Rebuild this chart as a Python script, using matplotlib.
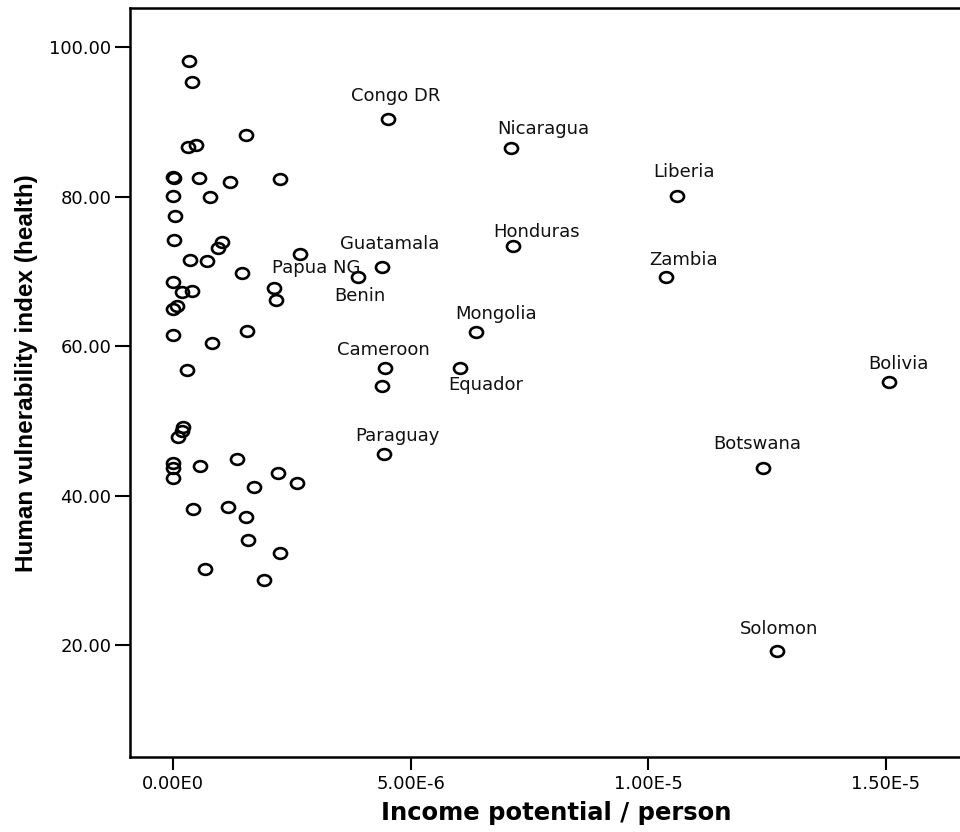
import matplotlib
matplotlib.use("Agg")
import matplotlib.pyplot as plt
from matplotlib.path import Path
from matplotlib.markers import MarkerStyle
from matplotlib.transforms import Affine2D

# unlabelled countries (income potential per person, health vulnerability)
income = [3.43e-7, 3.94e-7, 1.530e-6, 3.22e-7, 4.78e-7, 1.0e-8, 3.0e-8,
          5.47e-7, 1.193e-6, 2.252e-6, 0.0, 7.79e-7, 3.6e-8, 2.7e-8,
          1.037e-6, 9.47e-7, 3.64e-7, 7.09e-7, 1.452e-6, 0.0, 1.83e-7,
          4.00e-7, 2.132e-6, 2.161e-6, 7.8e-8, 6.0e-9, 6.0e-9, 1.551e-6,
          8.14e-7, 2.88e-7, 2.17e-7, 1.83e-7, 1.12e-7, 0.0, 6.0e-9, 0.0,
          5.68e-7, 1.353e-6, 2.216e-6, 2.616e-6, 1.705e-6, 4.15e-7,
          1.164e-6, 1.543e-6, 1.585e-6, 2.258e-6, 6.73e-7, 1.909e-6,
          4.405e-6]
health = [98.17, 95.36, 88.23, 86.66, 86.89, 82.65, 82.50, 82.43, 81.90,
          82.34, 80.11, 79.93, 77.43, 74.14, 73.95, 73.11, 71.46, 71.37,
          69.81, 68.52, 67.18, 67.32, 67.80, 66.15, 65.31, 64.91, 61.47,
          61.98, 60.44, 56.79, 49.20, 48.67, 47.79, 44.31, 43.72, 42.38,
          43.99, 44.84, 43.01, 41.71, 41.14, 38.19, 38.42, 37.12, 34.09,
          32.31, 30.13, 28.74, 54.69]

# labelled countries
names = ["Congo DR", "Nicaragua", "Liberia", "Honduras", "Guatamala",
         "Papua NG", "Benin", "Zambia", "Mongolia", "Cameroon", "Equador",
         "Bolivia", "Paraguay", "Botswana", "Solomon"]
names_income = [4.518e-6, 7.113e-6, 1.060e-5, 7.161e-6, 4.392e-6, 2.673e-6,
                3.887e-6, 1.0369e-5, 6.376e-6, 4.461e-6, 6.040e-6, 1.5061e-5,
                4.440e-6, 1.2422e-5, 1.2704e-5]
names_health = [90.33, 86.49, 80.07, 73.38, 70.61, 72.35, 69.23, 69.27,
                61.83, 57.10, 57.02, 55.14, 45.51, 43.64, 19.20]

x_ticks = [0.0, 5e-6, 1e-5, 1.5e-5]
x_tick_labels = ["0.00E0", "5.00E-6", "1.00E-5", "1.50E-5"]
y_ticks = [20, 40, 60, 80, 100]

# label placement (points, relative to the marker)
label_offsets = {
    "Congo DR": (5.8, 16.6), "Nicaragua": (23, 13.7), "Liberia": (5, 17.3),
    "Honduras": (16.6, 10.1), "Guatamala": (5.8, 16.6),
    "Papua NG": (11.5, -10.1), "Benin": (1.4, -13.7), "Zambia": (13, 12.2),
    "Mongolia": (14.4, 13), "Cameroon": (-1.4, 13), "Equador": (18.7, -12.2),
    "Bolivia": (7.2, 13), "Paraguay": (10, 13), "Botswana": (-4.3, 17.3),
    "Solomon": (1.4, 15.8),
}

W, H = 960, 832
fig = plt.figure(figsize=(W / 100, H / 100), dpi=100)
ax = fig.add_axes([130 / W, (H - 757) / H, (W - 130) / W, (757 - 8) / H])

# slightly flattened open circle, like the SPSS marker
oval = Path.unit_circle().transformed(Affine2D().scale(1.0, 0.82))
marker = MarkerStyle(oval)

all_x = income + names_income
all_y = health + names_health
ax.plot(all_x, all_y, linestyle="none", marker=marker, markersize=9.4,
        markerfacecolor="none", markeredgecolor="black", markeredgewidth=1.9)

for name, xv, yv in zip(names, names_income, names_health):
    ax.annotate(name, (xv, yv), xytext=label_offsets[name],
                textcoords="offset points", ha="center", va="center",
                fontsize=13, family="DejaVu Sans", color="#111111")

ax.set_xlim(-0.905e-6, 1.6562e-5)
ax.set_ylim(5.02, 105.22)

ax.set_xticks(x_ticks)
ax.set_xticklabels(x_tick_labels)
ax.set_yticks(y_ticks)
ax.set_yticklabels(["%.2f" % v for v in y_ticks])

ax.tick_params(axis="both", direction="out", width=1.5, colors="black",
               labelsize=13)
ax.tick_params(axis="y", length=11, pad=2.5)
ax.tick_params(axis="x", length=9, pad=4)
for lab in ax.get_xticklabels() + ax.get_yticklabels():
    lab.set_family("DejaVu Sans")

for side in ["left", "bottom", "top"]:
    ax.spines[side].set_linewidth(1.8)
ax.spines["right"].set_visible(False)

ax.set_xlabel("Income potential / person", fontsize=17.5, fontweight="bold",
              family="DejaVu Sans", va="center")
ax.xaxis.set_label_coords(0.514, -0.075)
ax.set_ylabel("Human vulnerability index (health)", fontsize=17.5,
              fontweight="bold", family="Liberation Sans", va="center")
ax.yaxis.set_label_coords(-0.125, 0.513)

fig.savefig("out.png", dpi=100)
